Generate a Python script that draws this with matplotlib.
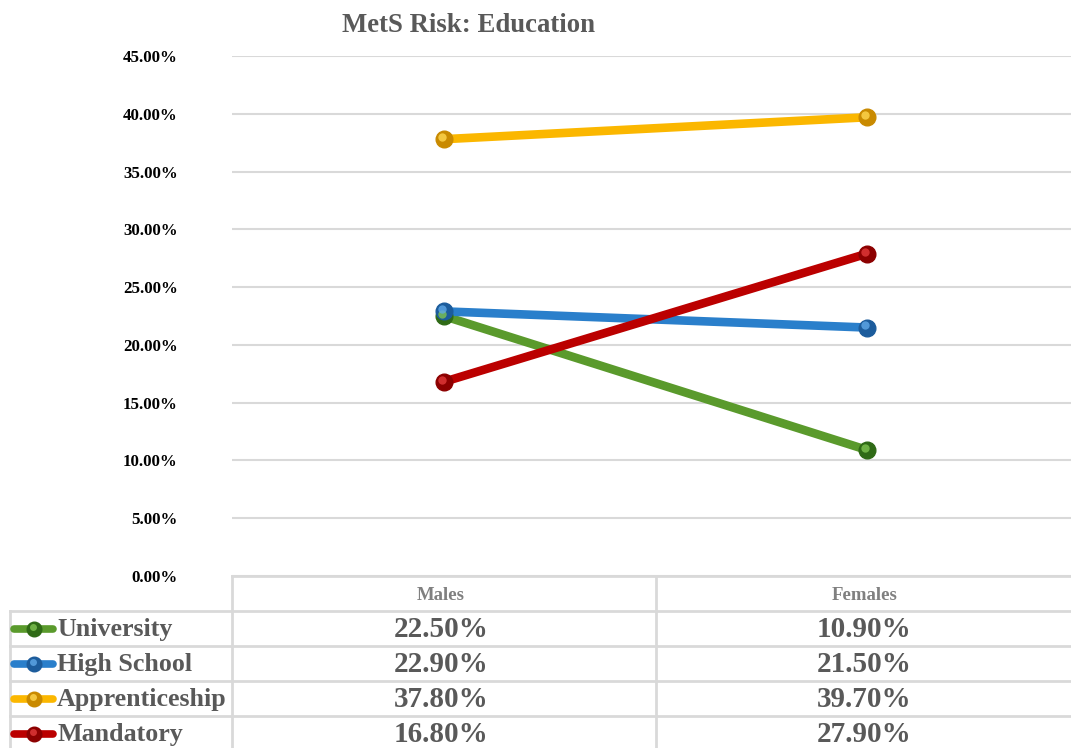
import matplotlib
matplotlib.use("Agg")
import matplotlib.pyplot as plt
from matplotlib.font_manager import FontProperties
from matplotlib.transforms import offset_copy


def bold(size):
    return FontProperties(family="Liberation Serif", weight="bold", size=size)


# --- data ---
groups = ["Males", "Females"]
series_names = ["University", "High School", "Apprenticeship", "Mandatory"]
university = [22.5, 10.9]
high_school = [22.9, 21.5]
apprenticeship = [37.8, 39.7]
mandatory = [16.8, 27.9]
series_values = [university, high_school, apprenticeship, mandatory]
y_ticks = [0, 5, 10, 15, 20, 25, 30, 35, 40, 45]

line_colors = ["#5a9a2c", "#2a7fcb", "#fbb700", "#bb0000"]
ball_colors = ["#2f6a16", "#1c5c9c", "#c98a00", "#8c0000"]
ball_light = ["#7fc450", "#5fa8e8", "#ffd750", "#e23a3a"]

W, H = 1071, 748
fig = plt.figure(figsize=(W / 100, H / 100), dpi=100)

# plot area in pixel terms
left_px, right_px, top_px, bot_px = 232, 1079, 56, 576
ax = fig.add_axes([left_px / W, 1 - bot_px / H,
                   (right_px - left_px) / W, (bot_px - top_px) / H])

x = range(len(groups))
for vals, lc, bc, hc in zip(series_values, line_colors, ball_colors, ball_light):
    ax.plot(x, vals, color=lc, lw=6.2, solid_capstyle="butt", zorder=3)
    ax.plot(x, vals, ls="none", marker="o", ms=12, mfc=bc, mec=bc, zorder=4)
    hl = offset_copy(ax.transData, fig=fig, x=-1.5, y=1.5, units="points")
    ax.plot(x, vals, ls="none", marker="o", ms=6, mfc=hc, mec="none",
            alpha=0.8, transform=hl, zorder=5)

ax.set_xlim(-0.5, len(groups) - 0.5)
ax.set_ylim(0, 45)
ax.set_yticks(y_ticks)
ax.set_yticklabels([f"{v:.2f}%" for v in y_ticks], fontproperties=bold(12.2),
                   color="black")
ax.set_xticks([])
ax.tick_params(axis="y", length=0, pad=39)
ax.grid(axis="y", color="#d9d9d9", lw=1.5, zorder=0)
for s in ax.spines.values():
    s.set_visible(False)
ax.set_axisbelow(True)

fig.text(468 / W, 1 - 25 / H, "MetS Risk: Education", ha="center", va="center",
         fontproperties=bold(19.3), color="#595959")

# --- data table below the plot, laid out in pixels ---
tab = fig.add_axes([0, 0, 1, 1], facecolor="none")
tab.set_xlim(0, W)
tab.set_ylim(H, 0)
tab.axis("off")

grid_c = "#d9d9d9"
row_edges = [576, 611, 646, 681, 716, 751]
col_mid = left_px + (right_px - left_px) / 2
col_centers = [left_px + (right_px - left_px) * 0.25,
               left_px + (right_px - left_px) * 0.75]

tab.plot([left_px, W], [row_edges[0]] * 2, color=grid_c, lw=2)
for yy in row_edges[1:-1]:
    tab.plot([10, W], [yy, yy], color=grid_c, lw=2)
tab.plot([left_px, left_px], [row_edges[0], H], color=grid_c, lw=2)
tab.plot([col_mid, col_mid], [row_edges[0], H], color=grid_c, lw=2)
tab.plot([10, 10], [row_edges[1], H], color=grid_c, lw=2)

header_y = (row_edges[0] + row_edges[1]) / 2 + 2
for cx, g in zip(col_centers, groups):
    tab.text(cx - 3, header_y, g, ha="center", va="center", fontproperties=bold(13.5),
             color="#808080")

for i, (name, vals) in enumerate(zip(series_names, series_values)):
    cy = (row_edges[i + 1] + row_edges[i + 2]) / 2
    tab.plot([14, 53], [cy, cy], color=line_colors[i], lw=5.5, solid_capstyle="round")
    tab.plot([33.5], [cy], marker="o", ms=10.5, mfc=ball_colors[i], mec=ball_colors[i])
    tab.plot([32.5], [cy - 1.5], marker="o", ms=5, mfc=ball_light[i], mec="none", alpha=0.8)
    tab.text(57, cy + 1, name, ha="left", va="center", fontproperties=bold(18.7),
             color="#595959")
    for cx, v in zip(col_centers, vals):
        tab.text(cx - 3, cy + 1, f"{v:.2f}%", ha="center", va="center",
                 fontproperties=bold(21), color="#595959")

fig.savefig("out.png", dpi=100)
